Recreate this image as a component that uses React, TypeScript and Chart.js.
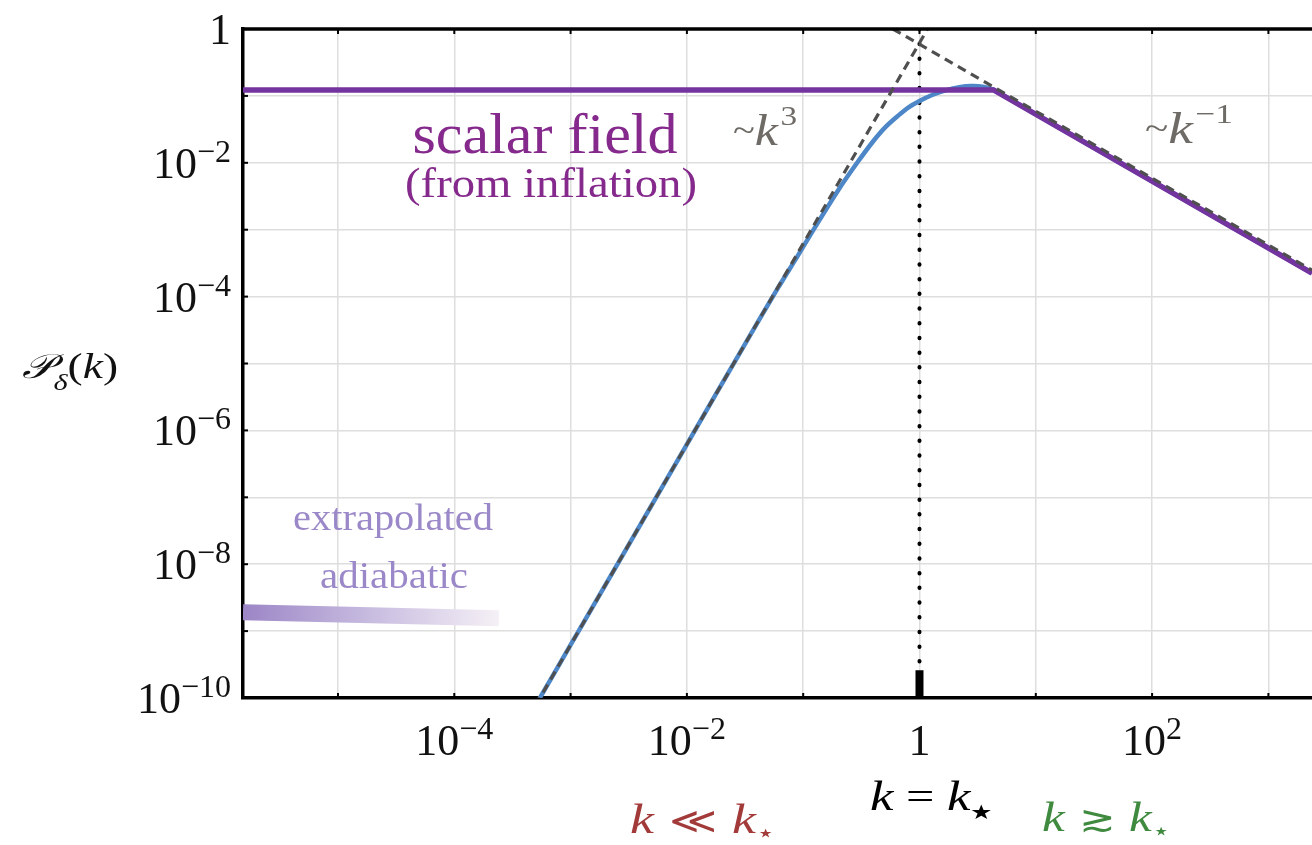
import React, { useEffect, useRef } from "react";
import { Chart, registerables } from "chart.js";

Chart.register(...registerables);

// Axis ranges (log-log)
const X_MIN = 1.525e-6;
const X_MAX = 2371;
const Y_MIN = 1e-10;
const Y_MAX = 1;

// Decade grid lines
const xGridValues = [1e-5, 1e-4, 1e-3, 1e-2, 1e-1, 1, 10, 100, 1000];
const yGridValues = [1e-10, 1e-9, 1e-8, 1e-7, 1e-6, 1e-5, 1e-4, 1e-3, 1e-2, 1e-1, 1];

// Tick labels: value, mantissa text, exponent text
const xTickValues = [1e-4, 1e-2, 1, 100];
const xTickBases = ["10", "10", "1", "10"];
const xTickExps = ["−4", "−2", "", "2"];
const yTickValues = [1, 1e-2, 1e-4, 1e-6, 1e-8, 1e-10];
const yTickBases = ["1", "10", "10", "10", "10", "10"];
const yTickExps = ["", "−2", "−4", "−6", "−8", "−10"];

// Density power spectrum (blue curve)
const spectrumK = [
  5.4e-4, 1e-3, 3e-3, 1e-2, 0.03, 0.06, 0.09, 0.124, 0.2, 0.291, 0.4, 0.5, 0.65, 0.8, 1.0,
  1.3, 1.7, 2.2, 2.8, 3.5, 4.3, 5.5, 7.0, 10, 100, 2371,
];
const spectrumP = [
  9.8e-11, 6.2e-10, 1.67e-8, 6.2e-7, 1.67e-5, 1.3e-4, 4.1e-4, 1.03e-3, 3.9e-3, 1.0e-2, 2.1e-2, 3.3e-2, 0.05, 0.067, 0.084,
  0.104, 0.122, 0.135, 0.14, 0.137, 0.124, 0.097, 0.076, 0.053, 0.0053, 2.24e-4,
];

// Scalar field spectrum from inflation (purple)
const scalarK = [X_MIN, 4.33, X_MAX];
const scalarP = [0.123, 0.123, 2.24e-4];

// Asymptotic power laws (~k^3 and ~k^-1)
const cubicK = [5.0e-4, 1.26];
const cubicP = [7.75e-11, 1.24];
const inverseK = [0.59, X_MAX];
const inverseP = [1.0, 2.49e-4];

// k = k_star marker
const kStarLineK = [1, 1];
const kStarLineP = [1, 2.6e-10];
const kStarTickK = [1, 1];
const kStarTickP = [1e-10, 2.6e-10];

// Extrapolated adiabatic band
const bandK = [X_MIN, 2.42e-4];
const bandP = [1.92e-9, 1.56e-9];

const SERIF = '"Liberation Serif", "DejaVu Serif", serif';
const MATH = '"DejaVu Serif", "Liberation Serif", serif';

const pts = (xs: number[], ys: number[]) => xs.map((x, i) => ({ x, y: ys[i] }));

type Run = { t: string; font: string; dy?: number; dx?: number };

function runsWidth(ctx: CanvasRenderingContext2D, runs: Run[]) {
  let w = 0;
  for (const r of runs) {
    ctx.font = r.font;
    w += ctx.measureText(r.t).width + (r.dx || 0);
  }
  return w;
}

function drawRuns(
  ctx: CanvasRenderingContext2D,
  runs: Run[],
  x: number,
  y: number,
  align: "left" | "center" | "right",
  color: string,
  targetWidth?: number
) {
  const natural = runsWidth(ctx, runs);
  const sx = targetWidth ? targetWidth / natural : 1;
  const w = natural * sx;
  let cx = align === "center" ? x - w / 2 : align === "right" ? x - w : x;
  ctx.save();
  ctx.fillStyle = color;
  ctx.textAlign = "left";
  ctx.textBaseline = "alphabetic";
  for (const r of runs) {
    ctx.font = r.font;
    cx += (r.dx || 0) * sx;
    ctx.save();
    ctx.translate(cx, y + (r.dy || 0));
    ctx.scale(sx, 1);
    ctx.fillText(r.t, 0, 0);
    ctx.restore();
    cx += ctx.measureText(r.t).width * sx;
  }
  ctx.restore();
}

const decorPlugin = {
  id: "decor",
  afterDraw(chart: any) {
    const { ctx, chartArea, scales } = chart;
    const xs = scales.x;
    const ys = scales.y;
    ctx.save();

    // top frame
    ctx.strokeStyle = "#000";
    ctx.lineWidth = 3.5;
    ctx.beginPath();
    ctx.moveTo(chartArea.left - 1.75, chartArea.top);
    ctx.lineTo(chartArea.right, chartArea.top);
    ctx.stroke();

    // small inward ticks on the frame
    ctx.lineWidth = 2;
    for (const v of xGridValues) {
      const px = xs.getPixelForValue(v);
      ctx.beginPath();
      ctx.moveTo(px, chartArea.bottom);
      ctx.lineTo(px, chartArea.bottom - 5);
      ctx.moveTo(px, chartArea.top);
      ctx.lineTo(px, chartArea.top + 5);
      ctx.stroke();
    }
    for (const v of yGridValues) {
      const py = ys.getPixelForValue(v);
      ctx.beginPath();
      ctx.moveTo(chartArea.left, py);
      ctx.lineTo(chartArea.left + 5, py);
      ctx.stroke();
    }

    // axis tick labels
    yTickValues.forEach((v, i) => {
      const py = ys.getPixelForValue(v);
      const runs: Run[] = [{ t: yTickBases[i], font: `44px ${SERIF}` }];
      if (yTickExps[i]) runs.push({ t: yTickExps[i], font: `32px ${SERIF}`, dy: -16 });
      drawRuns(ctx, runs, 231, py + 15, "right", "#111");
    });
    xTickValues.forEach((v, i) => {
      const px = xs.getPixelForValue(v);
      const runs: Run[] = [{ t: xTickBases[i], font: `44px ${SERIF}` }];
      if (xTickExps[i]) runs.push({ t: xTickExps[i], font: `32px ${SERIF}`, dy: -16 });
      drawRuns(ctx, runs, px, 755, "center", "#111");
    });

    // y-axis title
    drawRuns(
      ctx,
      [
        { t: "𝒫", font: `italic 34px ${MATH}` },
        { t: "δ", font: `italic 24px ${SERIF}`, dy: 12 },
        { t: "(", font: `36px ${SERIF}` },
        { t: "k", font: `italic 36px ${SERIF}` },
        { t: ")", font: `36px ${SERIF}` },
      ],
      22,
      378,
      "left",
      "#111",
      96
    );

    // annotations
    drawRuns(ctx, [{ t: "scalar field", font: `57px ${SERIF}` }], 545, 153, "center", "#852a8c", 265);
    drawRuns(ctx, [{ t: "(from inflation)", font: `42px ${SERIF}` }], 551, 197, "center", "#852a8c", 292);
    drawRuns(ctx, [{ t: "extrapolated", font: `38px ${SERIF}` }], 393, 530, "center", "#9a88c8", 200);
    drawRuns(ctx, [{ t: "adiabatic", font: `38px ${SERIF}` }], 394, 588, "center", "#9a88c8", 148);

    const gray = "#6e6a66";
    drawRuns(
      ctx,
      [
        { t: "~", font: `34px ${SERIF}`, dy: -4 },
        { t: "k", font: `italic 44px ${SERIF}` },
        { t: "3", font: `28px ${SERIF}`, dy: -20, dx: 2 },
      ],
      733,
      145,
      "left",
      gray,
      64
    );
    drawRuns(
      ctx,
      [
        { t: "~", font: `34px ${SERIF}`, dy: -4 },
        { t: "k", font: `italic 44px ${SERIF}` },
        { t: "−1", font: `28px ${SERIF}`, dy: -20, dx: 2 },
      ],
      1145,
      143,
      "left",
      gray,
      88
    );

    // regime labels below the axis
    drawRuns(
      ctx,
      [
        { t: "k", font: `italic 42px ${SERIF}` },
        { t: " ≪ ", font: `36px ${MATH}` },
        { t: "k", font: `italic 42px ${SERIF}` },
        { t: "⋆", font: `24px ${MATH}`, dy: 8 },
      ],
      630,
      833,
      "left",
      "#a33a3a",
      145
    );
    drawRuns(
      ctx,
      [
        { t: "k", font: `italic 42px ${SERIF}` },
        { t: " = ", font: `40px ${SERIF}` },
        { t: "k", font: `italic 42px ${SERIF}` },
        { t: "★", font: `20px ${MATH}`, dy: 9 },
      ],
      870,
      810,
      "left",
      "#000",
      123
    );
    drawRuns(
      ctx,
      [
        { t: "k", font: `italic 42px ${SERIF}` },
        { t: " ≳ ", font: `36px ${MATH}` },
        { t: "k", font: `italic 42px ${SERIF}` },
        { t: "⋆", font: `24px ${MATH}`, dy: 8 },
      ],
      1042,
      831,
      "left",
      "#3f8a3f",
      128
    );

    ctx.restore();
  },
};

export default function App() {
  const canvasRef = useRef<HTMLCanvasElement | null>(null);

  useEffect(() => {
    const canvas = canvasRef.current;
    if (!canvas) return;

    const bandColor = (c: any) => {
      const chart = c.chart;
      const { ctx, chartArea, scales } = chart;
      if (!chartArea || !scales.x) return "#a08ccc";
      const x0 = scales.x.getPixelForValue(bandK[0]);
      const x1 = scales.x.getPixelForValue(bandK[1]);
      const g = ctx.createLinearGradient(x0, 0, x1, 0);
      g.addColorStop(0, "#9c86c6");
      g.addColorStop(0.5, "#c8bce0");
      g.addColorStop(1, "#f5f0f6");
      return g;
    };

    const chart = new Chart(canvas, {
      type: "scatter",
      data: {
        datasets: [
          {
            label: "scalar field",
            data: pts(scalarK, scalarP),
            borderColor: "#7434a0",
            borderWidth: 5.5,
            order: 1,
          },
          {
            label: "~k^3",
            data: pts(cubicK, cubicP),
            borderColor: "#4f4f4f",
            borderWidth: 3.2,
            borderDash: [9, 6],
            order: 0,
          },
          {
            label: "~k^-1",
            data: pts(inverseK, inverseP),
            borderColor: "#4f4f4f",
            borderWidth: 3.2,
            borderDash: [9, 6],
            order: 0,
          },
          {
            label: "P_delta(k)",
            data: pts(spectrumK, spectrumP),
            borderColor: "#4d87c7",
            borderWidth: 4.5,
            tension: 0.35,
            order: 2,
          },
          {
            label: "k = k*",
            data: pts(kStarLineK, kStarLineP),
            borderColor: "#000",
            borderWidth: 4,
            borderDash: [0.5, 14.2],
            borderCapStyle: "round",
            order: 3,
          },
          {
            label: "k* tick",
            data: pts(kStarTickK, kStarTickP),
            borderColor: "#000",
            borderWidth: 8,
            borderCapStyle: "butt",
            order: 3,
          },
          {
            label: "extrapolated adiabatic",
            data: pts(bandK, bandP),
            borderColor: bandColor,
            borderWidth: 16,
            borderCapStyle: "butt",
            order: 4,
          },
        ] as any,
      },
      options: {
        animation: false,
        responsive: false,
        devicePixelRatio: 1,
        showLine: true,
        clip: 0 as any,
        layout: { padding: { left: 243, top: 29, right: 0, bottom: 147 } },
        elements: { point: { radius: 0, hoverRadius: 0 }, line: { tension: 0 } },
        plugins: { legend: { display: false }, tooltip: { enabled: false } },
        events: [],
        scales: {
          x: {
            type: "logarithmic",
            min: X_MIN,
            max: X_MAX,
            bounds: "data",
            afterBuildTicks: (scale: any) => {
              scale.ticks = xGridValues.map((v) => ({ value: v }));
            },
            ticks: { display: false },
            grid: { color: "#dedede", lineWidth: 1.5, drawTicks: false },
            border: { display: true, color: "#000", width: 3.5 },
          },
          y: {
            type: "logarithmic",
            min: Y_MIN,
            max: Y_MAX,
            bounds: "data",
            afterBuildTicks: (scale: any) => {
              scale.ticks = yGridValues.map((v) => ({ value: v }));
            },
            ticks: { display: false },
            grid: { color: "#dedede", lineWidth: 1.5, drawTicks: false },
            border: { display: true, color: "#000", width: 3.5 },
          },
        },
      } as any,
      plugins: [decorPlugin],
    });

    return () => chart.destroy();
  }, []);

  return (
    <div style={{ position: "fixed", left: 0, top: 0, width: 1312, height: 845, background: "#fff", overflow: "hidden" }}>
      <canvas ref={canvasRef} width={1312} height={845} style={{ width: 1312, height: 845, display: "block" }} />
    </div>
  );
}
